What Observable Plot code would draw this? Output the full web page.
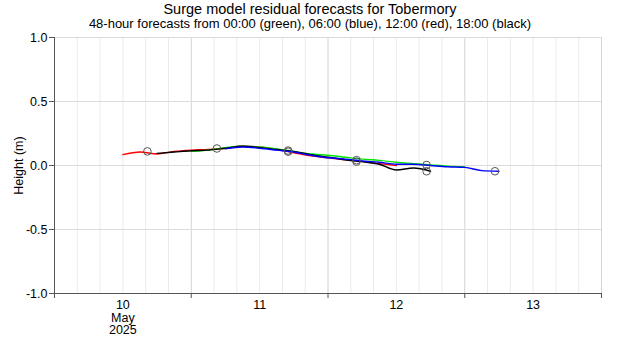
<!DOCTYPE html>
<html>
<head>
<meta charset="utf-8">
<script src="https://cdn.jsdelivr.net/npm/d3@7"></script>
<script src="https://cdn.jsdelivr.net/npm/@observablehq/plot@0.6"></script>
<style>
  body { margin: 0; background: #fff; font-family: "Liberation Sans", Arial, sans-serif; }
  #wrap { width: 620px; height: 350px; position: relative; }
  #head { position: relative; z-index: 1; height: 36px; text-align: center; color: #000; }
  #title { font-size: 14.5px; line-height: 13px; padding-top: 3px; }
  #subtitle { font-size: 13px; line-height: 13px; padding-top: 1px; }
  #chart { margin-top: -10px; }
</style>
</head>
<body>
<div id="wrap">
  <div id="head">
    <div id="title">Surge model residual forecasts for Tobermory</div>
    <div id="subtitle">48-hour forecasts from 00:00 (green), 06:00 (blue), 12:00 (red), 18:00 (black)</div>
  </div>
  <div id="chart"></div>
</div>
<script>
// Base time: 10 May 2025 00:00 UTC; all hours are offsets from it
const baseTime = Date.UTC(2025, 4, 10, 0, 0);
const dayLabels = ["10\nMay\n2025", "11", "12", "13"];
const dayNoonHours = [12, 36, 60, 84];
const dayBoundaryHours = [0, 24, 48, 72, 96];
const yTicks = [-1, -0.5, 0, 0.5, 1];

// Forecast lead times (hours) shared by all runs
const leadHours = [0, 3, 6, 9, 12, 15, 18, 21, 24, 27, 30, 33, 36, 39, 42, 45, 48];

// Run start hours (offset from base time)
const greenStart = 24; // 00:00 run, 11 May
const blueStart = 30;  // 06:00 run, 11 May
const redStart = 12;   // 12:00 run, 10 May
const blackStart = 18; // 18:00 run, 10 May

const redValues   = [0.085, 0.105, 0.090, 0.110, 0.120, 0.125, 0.135, 0.150, 0.145, 0.125, 0.100, 0.075, 0.060, 0.045, 0.030, 0.015, 0.000];
const blackValues = [0.095, 0.105, 0.115, 0.120, 0.135, 0.150, 0.140, 0.125, 0.110, 0.085, 0.065, 0.045, 0.030, 0.010, -0.035, -0.020, -0.045];
const greenValues = [0.110, 0.120, 0.140, 0.150, 0.145, 0.130, 0.110, 0.090, 0.080, 0.065, 0.050, 0.040, 0.025, 0.015, 0.005, -0.005, -0.010];
const blueValues  = [0.130, 0.145, 0.135, 0.120, 0.105, 0.080, 0.060, 0.050, 0.035, 0.025, 0.010, 0.010, 0.000, -0.010, -0.015, -0.040, -0.045];

// High-water markers
const hwHours  = [16.3, 28.5, 41, 41, 53, 53, 65.3, 65.3, 77.3];
const hwValues = [0.11, 0.133, 0.117, 0.108, 0.042, 0.030, 0.004, -0.045, -0.045];

const toDate = h => new Date(baseTime + h * 3600e3);

function series(name, start, values) {
  return values.map((v, i) => ({name, time: toDate(start + leadHours[i]), value: v}));
}
const runs = [
  {name: "red", color: "#ff0000", data: series("red", redStart, redValues)},
  {name: "green", color: "#00e600", data: series("green", greenStart, greenValues)},
  {name: "black", color: "#000000", data: series("black", blackStart, blackValues)},
  {name: "blue", color: "#0000ff", data: series("blue", blueStart, blueValues)}
];
const markers = hwHours.map((h, i) => ({time: toDate(h), value: hwValues[i]}));

const minorHours = d3.range(0, 97, 4).filter(h => h % 24 !== 0);

const plot = Plot.plot({
  width: 620,
  height: 324,
  marginTop: 11,
  marginBottom: 57,
  marginLeft: 54,
  marginRight: 19,
  style: {fontFamily: "'Liberation Sans', Arial, sans-serif", fontSize: "12.5px", color: "#000", background: "transparent", overflow: "visible"},
  x: {type: "utc", domain: [toDate(0), toDate(96)]},
  y: {domain: [-1, 1]},
  marks: [
    Plot.ruleX(minorHours.map(toDate), {stroke: "#ebebeb", strokeWidth: 1}),
    Plot.ruleX(dayBoundaryHours.slice(1).map(toDate), {stroke: "#d4d4d4", strokeWidth: 1}),
    Plot.ruleY(yTicks, {stroke: "#dcdcdc", strokeWidth: 1}),
    Plot.axisY({ticks: yTicks, tickFormat: d => d.toFixed(1), tickSize: 5, tickPadding: 2,
      label: "Height (m)", labelAnchor: "center", labelArrow: false, labelOffset: 40, stroke: "#555"}),
    Plot.ruleX([toDate(0)], {stroke: "#555"}),
    Plot.ruleY([-1], {stroke: "#555"}),
    Plot.axisX({ticks: dayBoundaryHours.map(toDate), tickSize: 5, tickFormat: () => "", stroke: "#555"}),
    Plot.axisX({ticks: dayNoonHours.map(toDate), tickSize: 0, tickPadding: 7,
      tickFormat: (d, i) => dayLabels[i], label: null}),
    ...runs.map(r => Plot.line(r.data, {x: "time", y: "value", stroke: r.color, strokeWidth: 1.4, curve: "monotone-x"})),
    Plot.dot(markers, {x: "time", y: "value", r: 3.8, stroke: "#555", strokeWidth: 1, fill: "none"})
  ]
});
document.getElementById("chart").appendChild(plot);
</script>
</body>
</html>
